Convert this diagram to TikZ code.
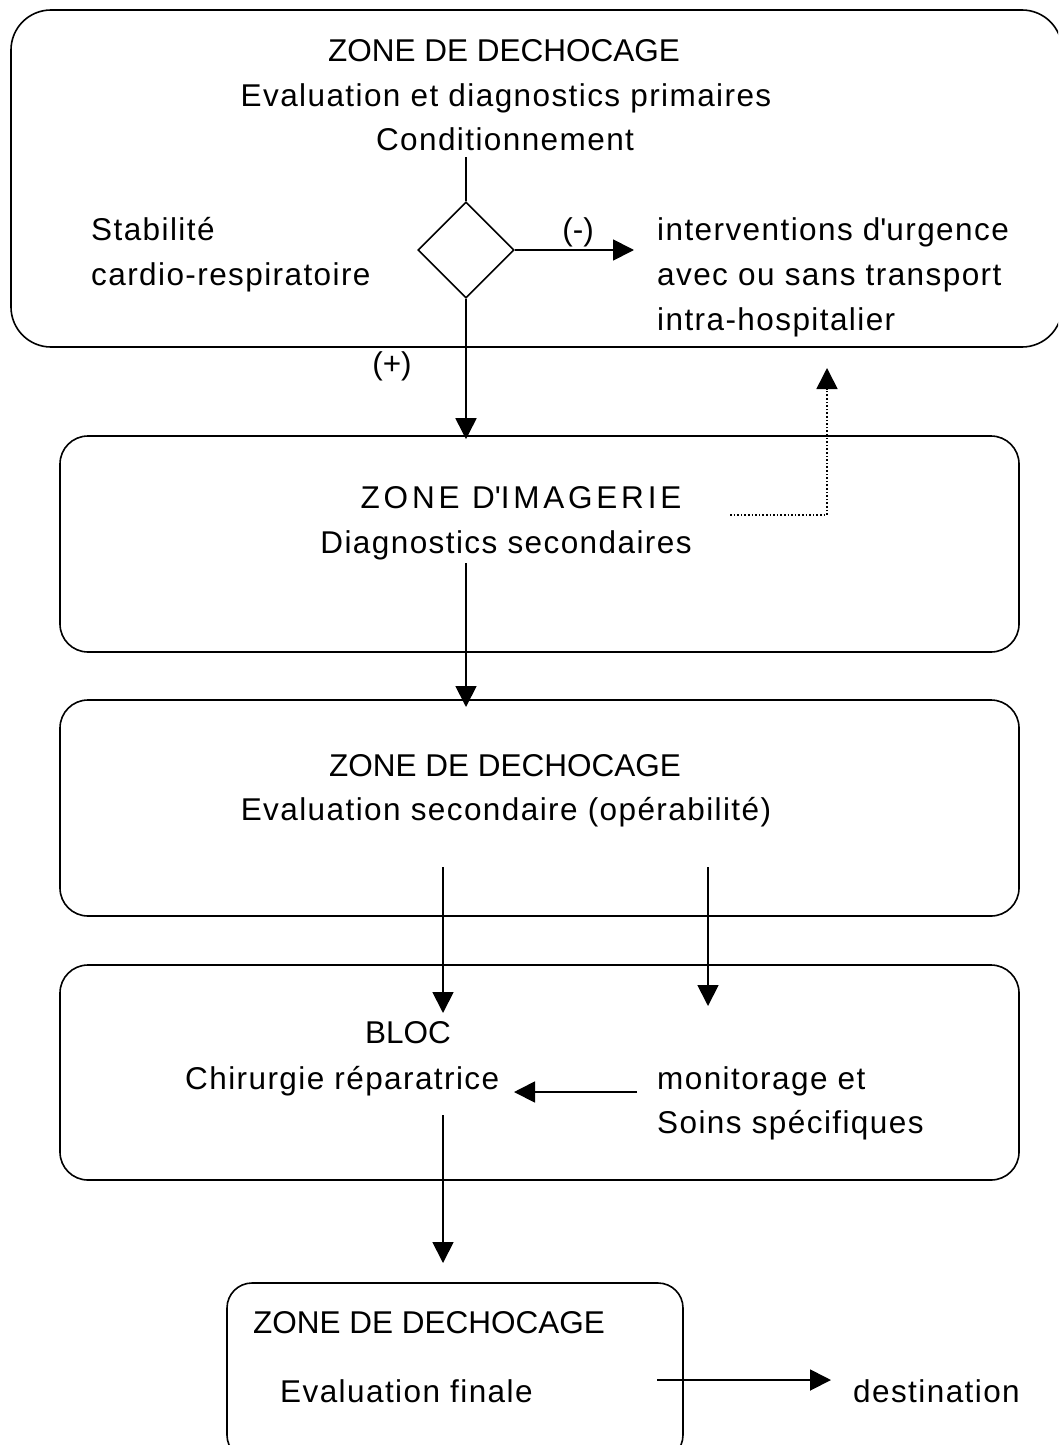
\documentclass[tikz,border=0pt]{standalone}
\usepackage{fontspec}
\setmainfont{Liberation Sans}
\newfontfamily\lsfont[LetterSpace=4.5]{Liberation Sans}
\newfontfamily\widefont[LetterSpace=12]{Liberation Sans}
\usetikzlibrary{shapes.geometric,arrows.meta}
\tikzset{
  zonebox/.style={draw, line width=1.6pt, inner sep=0pt},
  txt/.style={inner sep=0pt, font=\fontsize{31.5}{44}\lsfont},
  capstxt/.style={inner sep=0pt, font=\fontsize{31.5}{44}\selectfont},
  conn/.style={line width=1.8pt, -{Triangle[length=21pt,width=21pt]}},
  plain/.style={line width=1.8pt},
  dots/.style={line width=1.6pt, dotted, -{Triangle[length=21pt,width=21pt]}}
}
\begin{document}
\begin{tikzpicture}[x=1pt,y=-1pt]
\useasboundingbox (0,0) rectangle (1058,1445);
\clip (0,0) rectangle (1058,1445);
% boxes
\node[zonebox, rounded corners=40pt, minimum width=1051pt, minimum height=337pt] (top) at (536.5,178.5) {};
\node[zonebox, rounded corners=28pt, minimum width=959pt, minimum height=216pt] (img) at (539.5,544) {};
\node[zonebox, rounded corners=28pt, minimum width=959pt, minimum height=216pt] (dech) at (539.5,808) {};
\node[zonebox, rounded corners=28pt, minimum width=959pt, minimum height=215pt] (bloc) at (539.5,1072.5) {};
\node[zonebox, rounded corners=25pt, minimum width=456pt, minimum height=177pt] (fin) at (455,1371.5) {};
% diamond
\node[draw, diamond, line width=1.6pt, inner sep=0pt, minimum width=96pt, minimum height=96pt] (dia) at (466,250) {};
% texts
\node[capstxt, anchor=base] (t1) at (504,62) {ZONE DE DECHOCAGE};
\node[txt, anchor=base] (t2) at (506,106) {Evaluation et diagnostics primaires};
\node[txt, anchor=base] (t3) at (505,150) {Conditionnement};
\node[txt, anchor=base west] (s1) at (91,240) {Stabilité};
\node[txt, anchor=base west] (s2) at (91,285) {cardio-respiratoire};
\node[txt, anchor=base west] (u1) at (657,240) {interventions d\textquotesingle urgence};
\node[txt, anchor=base west] (u2) at (657,285) {avec ou sans transport};
\node[txt, anchor=base west] (u3) at (657,330) {intra-hospitalier};
\node[capstxt, anchor=base] (minus) at (578,240) {(-)};
\node[capstxt, anchor=base] (plus) at (392,374) {(+)};
\node[inner sep=0pt, font=\fontsize{31.5}{44}\widefont, anchor=base] (i1) at (521,508) {ZONE D\textquotesingle IMAGERIE};
\node[txt, anchor=base] (i2) at (506,553) {Diagnostics secondaires};
\node[capstxt, anchor=base] (d1) at (505,776) {ZONE DE DECHOCAGE};
\node[txt, anchor=base] (d2) at (506,820) {Evaluation secondaire (opérabilité)};
\node[capstxt, anchor=base] (b1) at (408,1043) {BLOC};
\node[txt, anchor=base west] (b2) at (185,1089) {Chirurgie réparatrice};
\node[txt, anchor=base west] (m1) at (657,1089) {monitorage et};
\node[txt, anchor=base west] (m2) at (657,1133) {Soins spécifiques};
\node[capstxt, anchor=base west] (f1) at (253,1333) {ZONE DE DECHOCAGE};
\node[txt, anchor=base west] (f2) at (280,1402) {Evaluation finale};
\node[txt, anchor=base west] (dest) at (853,1402) {destination};
% coordinates
\coordinate (c0) at (466,157);
\coordinate (cm) at (634,250);
\coordinate (dotA) at (730,515);
\coordinate (dotB) at (827,515);
\coordinate (dotC) at (827,368);
\coordinate (c1) at (466,563);
\coordinate (c1e) at (466,707);
\coordinate (c2) at (443,867);
\coordinate (c2e) at (443,1013);
\coordinate (c3) at (708,867);
\coordinate (c3e) at (708,1006);
\coordinate (c4) at (637,1092);
\coordinate (c4e) at (514,1092);
\coordinate (c5) at (443,1115);
\coordinate (c5e) at (443,1263);
\coordinate (c6) at (657,1380);
\coordinate (c6e) at (831,1380);
% connectors
\draw[plain] (c0) -- (dia.north);
\draw[conn] (dia.south) -- ([yshift=-4pt]dia.south |- img.north);
\draw[conn] (dia.east) -- (cm);
\draw[dots] (dotA) -- (dotB) -- (dotC);
\draw[conn] (c1) -- (c1e);
\draw[conn] (c2) -- (c2e);
\draw[conn] (c3) -- (c3e);
\draw[conn] (c4) -- (c4e);
\draw[conn] (c5) -- (c5e);
\draw[conn] (c6) -- (c6e);
\end{tikzpicture}
\end{document}
